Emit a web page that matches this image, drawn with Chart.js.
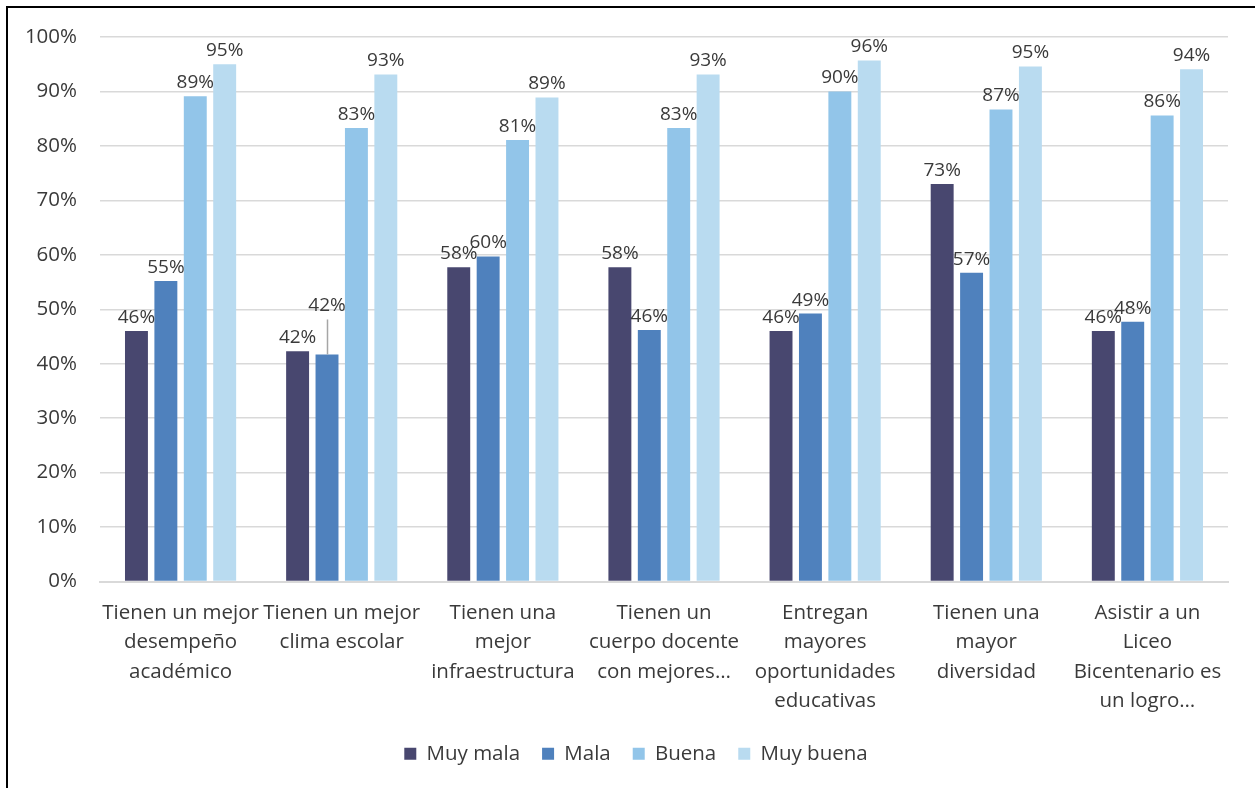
<!DOCTYPE html>
<html>
<head>
<meta charset="utf-8">
<script src="https://cdn.jsdelivr.net/npm/chart.js@4"></script>
<style>
  html, body { margin: 0; padding: 0; background: #fff; }
  #wrap { position: relative; width: 1255px; height: 788px; overflow: hidden; }
  #frame { position: absolute; left: 6px; top: 6px; width: 1300px; height: 900px; border-left: 2px solid #000; border-top: 2px solid #000; box-sizing: border-box; pointer-events: none; }
  canvas { position: absolute; left: 0; top: 0; }
</style>
</head>
<body>
<div id="wrap">
  <canvas id="c" width="1255" height="788"></canvas>
  <div id="frame"></div>
</div>
<script>
const categories = [
  ["Tienen un mejor", "desempeño", "académico"],
  ["Tienen un mejor", "clima escolar"],
  ["Tienen una", "mejor", "infraestructura"],
  ["Tienen un", "cuerpo docente", "con mejores…"],
  ["Entregan", "mayores", "oportunidades", "educativas"],
  ["Tienen una", "mayor", "diversidad"],
  ["Asistir a un", "Liceo", "Bicentenario es", "un logro…"]
];
const seriesNames = ["Muy mala", "Mala", "Buena", "Muy buena"];
const muyMala  = [46.0, 42.3, 57.7, 57.7, 46.0, 73.0, 46.0];
const mala     = [55.2, 41.7, 59.7, 46.2, 49.2, 56.7, 47.7];
const buena    = [89.1, 83.3, 81.1, 83.3, 90.0, 86.7, 85.6];
const muyBuena = [95.0, 93.1, 88.9, 93.1, 95.7, 94.6, 94.1];
const yTicks = [0, 10, 20, 30, 40, 50, 60, 70, 80, 90, 100];
const colors = ["#48476f", "#4f81bd", "#92c5e9", "#b9dbf0"];

const FONT = "'Open Sans', 'Noto Sans', sans-serif";
const TEXT = "#3a3a3a";

const barLabels = {
  id: 'barLabels',
  afterDatasetsDraw(chart, args, opts) {
    const ctx = chart.ctx;
    ctx.save();
    ctx.font = "19px " + FONT;
    ctx.fillStyle = TEXT;
    ctx.textAlign = 'center';
    ctx.textBaseline = 'bottom';
    chart.data.datasets.forEach((ds, di) => {
      const meta = chart.getDatasetMeta(di);
      meta.data.forEach((el, i) => {
        const key = di + '-' + i;
        const lift = (opts.lifts && opts.lifts[key]) || 0;
        const y = el.y - 4 - lift;
        if (lift) {
          ctx.strokeStyle = '#a6a6a6';
          ctx.lineWidth = 1.5;
          ctx.beginPath();
          ctx.moveTo(Math.round(el.x) + 0.5, el.y);
          ctx.lineTo(Math.round(el.x) + 0.5, y + 4);
          ctx.stroke();
        }
        ctx.fillText(Math.round(ds.data[i]) + '%', el.x, y);
      });
    });
    ctx.restore();
  }
};

const legendShift = {
  id: 'legendShift',
  afterLayout(chart, args, opts) {
    if (chart.legend) {
      chart.legend.left += opts.dx;
      chart.legend.right += opts.dx;
    }
  }
};

new Chart(document.getElementById('c'), {
  type: 'bar',
  data: {
    labels: categories,
    datasets: [muyMala, mala, buena, muyBuena].map((d, k) => ({
      label: seriesNames[k],
      data: d,
      backgroundColor: colors[k],
      borderWidth: 0,
      barPercentage: 0.78,
      categoryPercentage: 0.73
    }))
  },
  options: {
    responsive: false,
    animation: false,
    devicePixelRatio: 1,
    layout: { padding: { left: 0, right: 27, top: 37, bottom: 14 } },
    plugins: {
      tooltip: { enabled: false },
      barLabels: { lifts: { '1-1': 35 } },
      legendShift: { dx: 22 },
      legend: {
        position: 'bottom',
        labels: {
          font: { family: FONT, size: 20.5 },
          color: TEXT,
          boxWidth: 12,
          boxHeight: 12,
          padding: 22
        }
      }
    },
    scales: {
      x: {
        afterFit(scale) { scale.height = 140; },
        grid: { display: false, drawTicks: false },
        border: { display: true, color: '#d9d9d9', width: 2 },
        ticks: {
          font: { family: FONT, size: 20.5, lineHeight: 1.43 },
          color: TEXT,
          padding: 17,
          maxRotation: 0,
          autoSkip: false
        }
      },
      y: {
        min: 0, max: 100,
        afterFit(scale) { scale.width = 100; },
        afterBuildTicks(scale) { scale.ticks = yTicks.map(v => ({ value: v })); },
        grid: { color: '#d9d9d9', lineWidth: 1.5, drawTicks: false },
        border: { display: false },
        ticks: {
          font: { family: FONT, size: 20.5 },
          color: TEXT,
          padding: 23,
          callback: v => v + '%'
        }
      }
    }
  },
  plugins: [barLabels, legendShift]
});
</script>
</body>
</html>
